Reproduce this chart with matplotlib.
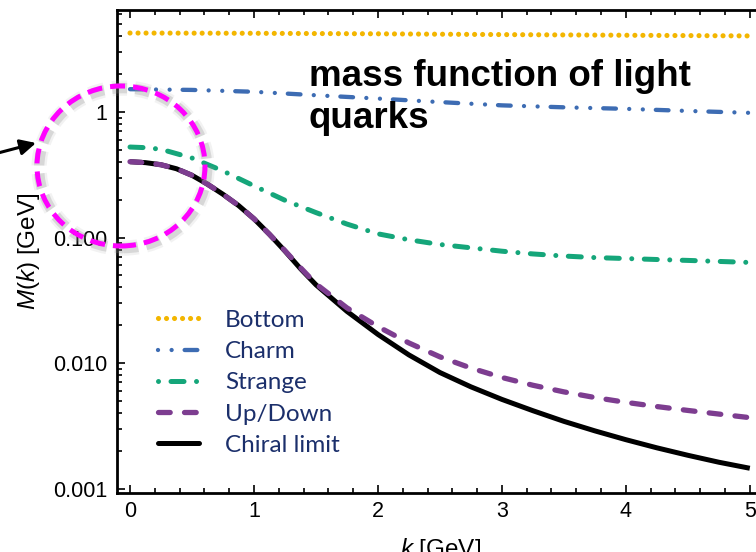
import matplotlib
matplotlib.use("Agg")
import matplotlib.pyplot as plt
from matplotlib.lines import Line2D
from matplotlib.patches import Ellipse, FancyArrowPatch
from matplotlib.ticker import FixedLocator, FixedFormatter, MultipleLocator, LogLocator, NullFormatter
import matplotlib.patheffects as pe

plt.rcParams['lines.scale_dashes'] = False
plt.rcParams['font.family'] = ['Liberation Sans', 'DejaVu Sans']
plt.rcParams['mathtext.fontset'] = 'custom'
plt.rcParams['mathtext.it'] = 'Liberation Sans:italic'
plt.rcParams['mathtext.rm'] = 'Liberation Sans'

# ---- data ----
k_bottom = [0, 1, 2, 3, 4, 5]
m_bottom = [4.26, 4.24, 4.20, 4.14, 4.09, 4.04]

k_charm = [0, 0.5, 1.0, 1.5, 2.0, 2.5, 3.0, 3.5, 4.0, 4.5, 5.0]
m_charm = [1.52, 1.50, 1.45, 1.36, 1.28, 1.20, 1.13, 1.09, 1.06, 1.02, 0.985]

k_strange = [0, 0.125, 0.25, 0.5, 0.75, 1.0, 1.25, 1.5, 1.75, 2.0, 2.25, 2.5,
             2.75, 3.0, 3.25, 3.5, 3.75, 4.0, 4.25, 4.5, 4.75, 5.0]
m_strange = [0.526, 0.520, 0.505, 0.43, 0.339, 0.258, 0.198, 0.158, 0.128, 0.107, 0.096, 0.088,
             0.0828, 0.0778, 0.074, 0.0712, 0.0692, 0.068, 0.0668, 0.0657, 0.0645, 0.0633]

k_light = [0, 0.125, 0.25, 0.375, 0.5, 0.625, 0.75, 0.875, 1.0, 1.125, 1.25, 1.375, 1.5,
           1.75, 2.0, 2.25, 2.5, 2.75, 3.0, 3.25, 3.5, 3.75, 4.0, 4.25, 4.5, 4.75, 5.0]
m_updown = [0.402, 0.395, 0.380, 0.353, 0.313, 0.266, 0.221, 0.180, 0.141, 0.106, 0.0785,
            0.0575, 0.0427, 0.0275, 0.0195, 0.01445, 0.0112, 0.00912, 0.00767, 0.00665,
            0.00589, 0.00531, 0.00486, 0.0045, 0.00419, 0.00392, 0.00367]
m_chiral = [0.402, 0.395, 0.380, 0.353, 0.313, 0.266, 0.221, 0.180, 0.141, 0.106, 0.0780,
            0.0565, 0.0420, 0.0258, 0.0169, 0.0116, 0.0084, 0.00646, 0.00513, 0.00417,
            0.00343, 0.00288, 0.00245, 0.00211, 0.00184, 0.00162, 0.00145]

labels = ['Bottom', 'Charm', 'Strange', 'Up/Down', 'Chiral limit']
colors = ['#f3b600', '#3d6cb3', '#15a67a', '#7d3d90', '#000000']

ytick_vals = [0.001, 0.01, 0.1, 1]
ytick_labels = ['0.001', '0.010', '0.100', '1']
xtick_vals = [0, 1, 2, 3, 4, 5]
xtick_labels = ['0', '1', '2', '3', '4', '5']

px = 0.72  # points per pixel at dpi 100
ls_bottom = (0, (0.01, 8 * px))
ls_charm = (0, (12.7 * px, 13.3 * px, 0.01, 13.6 * px, 0.01, 13 * px))
ls_strange = (0, (13 * px, 12.5 * px, 0.01, 12.5 * px))
ls_updown = (0, (11.7 * px, 14.3 * px))

fig = plt.figure(figsize=(7.56, 5.52), dpi=100)
ax = fig.add_axes([117 / 756, 59 / 552, 639 / 756, 483 / 552])
ax.set_yscale('log')

lw_b, lw_c, lw_s, lw_u, lw_k = 3.7, 3.1, 3.6, 3.8, 3.6
ax.plot(k_bottom, m_bottom, color=colors[0], lw=lw_b, linestyle=ls_bottom,
        dash_capstyle='round', zorder=3)
ax.plot(k_charm, m_charm, color=colors[1], lw=lw_c, linestyle=ls_charm,
        dash_capstyle='round', zorder=3)
ax.plot(k_strange, m_strange, color=colors[2], lw=lw_s, linestyle=ls_strange,
        dash_capstyle='round', zorder=3)
ax.plot(k_light, m_chiral, color=colors[4], lw=lw_k, solid_capstyle='butt',
        solid_joinstyle='round', zorder=3)
ax.plot(k_light, m_updown, color=colors[3], lw=lw_u, linestyle=ls_updown,
        dash_capstyle='round', zorder=4)

ax.set_xlim(-0.105, 5.05)
ax.set_ylim(9.21e-4, 6.5)

ax.yaxis.set_major_locator(FixedLocator(ytick_vals))
ax.yaxis.set_major_formatter(FixedFormatter(ytick_labels))
ax.yaxis.set_minor_locator(LogLocator(base=10, subs=range(2, 10)))
ax.yaxis.set_minor_formatter(NullFormatter())
ax.xaxis.set_major_locator(FixedLocator(xtick_vals))
ax.xaxis.set_major_formatter(FixedFormatter(xtick_labels))
ax.xaxis.set_minor_locator(MultipleLocator(0.2))

for s in ['left', 'top', 'bottom']:
    ax.spines[s].set_linewidth(2.0)
ax.spines['right'].set_visible(False)
ax.tick_params(which='both', direction='in', top=True, right=False, width=1.2, color='black')
ax.tick_params(which='major', length=6, labelsize=15.5)
ax.tick_params(which='minor', length=3.8)
ax.tick_params(axis='y', which='major', pad=7)
ax.tick_params(axis='x', which='major', pad=6)

ax.set_ylabel(r'$M$($k$) [GeV]', fontsize=17.5)
ax.yaxis.set_label_coords(-0.117, 0.5)
ax.set_xlabel(r'$k$ [GeV]', fontsize=17.5)
ax.xaxis.set_label_coords(0.507, -0.089)

# legend proxies (pattern phase chosen like the reference)
h_b = Line2D([], [], color=colors[0], lw=lw_b, linestyle=ls_bottom, dash_capstyle='round')
h_c = Line2D([], [], color=colors[1], lw=lw_c,
             linestyle=(26 * px, ls_charm[1]), dash_capstyle='round')
h_s = Line2D([], [], color=colors[2], lw=lw_s,
             linestyle=(25.5 * px, ls_strange[1]), dash_capstyle='round')
h_u = Line2D([], [], color=colors[3], lw=lw_u, linestyle=ls_updown, dash_capstyle='round')
h_k = Line2D([], [], color=colors[4], lw=lw_k, solid_capstyle='round')
leg_fs = 17.5
leg = ax.legend([h_b, h_c, h_s, h_u, h_k], labels, loc='upper left',
                bbox_to_anchor=(0.0649, 0.379), frameon=False, borderpad=0,
                borderaxespad=0, handlelength=41 / (leg_fs / px), handletextpad=1.05,
                labelspacing=0.42, prop={'family': 'Lato', 'size': leg_fs})
for t in leg.get_texts():
    t.set_color('#1b2f6b')

# annotation text (baseline of the last line given)
fig.text(309 / 756, 1 - 128 / 552, 'mass function of light\nquarks', fontsize=26.5,
         fontweight='bold', family='Liberation Sans', ha='left', va='baseline',
         linespacing=1.26, color='black')

# magenta dashed circle with soft shadow
circ = Ellipse((121 / 756, 1 - 166 / 552), 168 / 756, 160 / 552, transform=fig.transFigure,
               fill=False, edgecolor='#ff00ff', lw=3.6, linestyle=(0, (10.8, 5.8)),
               capstyle='butt', zorder=10)
circ.set_path_effects([
    pe.Stroke(linewidth=11, foreground='#999999', alpha=0.12, offset=(1.5, -1.5)),
    pe.Stroke(linewidth=7.5, foreground='#888888', alpha=0.25, offset=(1.5, -1.5)),
    pe.Normal()])
fig.add_artist(circ)

# arrow pointing at the circle
fig.add_artist(FancyArrowPatch(
    (-2 / 756, 1 - 153 / 552), (36 / 756, 1 - 143 / 552), transform=fig.transFigure,
    arrowstyle='-|>,head_length=1.0,head_width=0.5', mutation_scale=9.4,
    lw=2.2, color='black', shrinkA=0, shrinkB=0, zorder=10))

fig.savefig('out.png', dpi=100)
